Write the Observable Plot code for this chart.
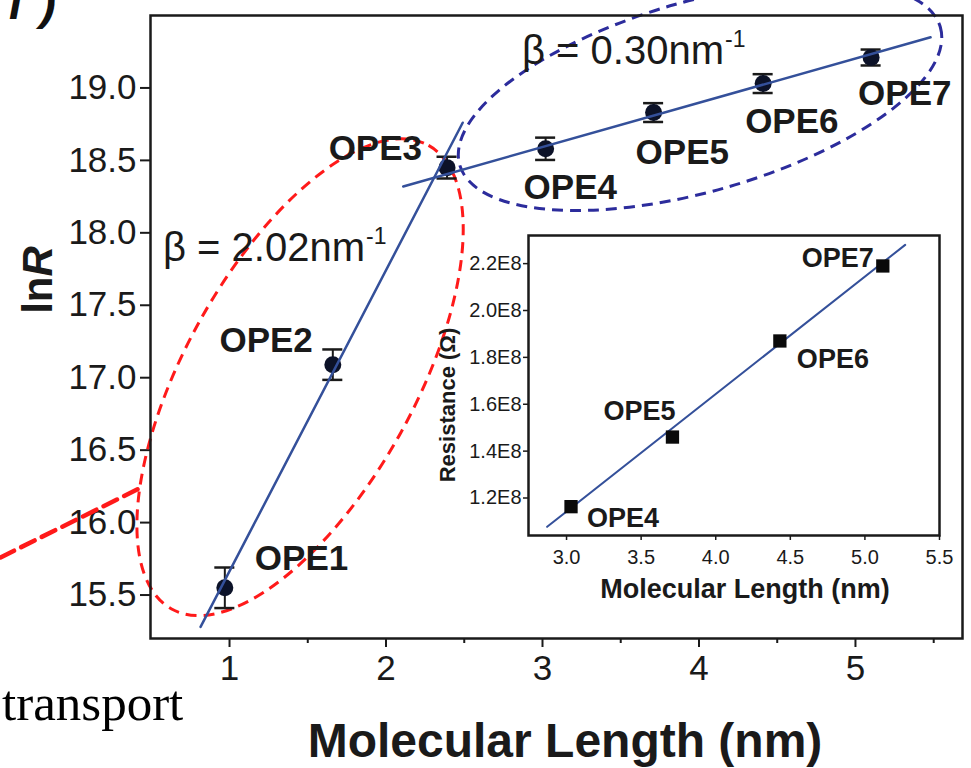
<!DOCTYPE html>
<html>
<head>
<meta charset="utf-8">
<script src="https://cdn.jsdelivr.net/npm/d3@7"></script>
<script src="https://cdn.jsdelivr.net/npm/@observablehq/plot@0.6"></script>
<style>
  html, body { margin: 0; padding: 0; background: #fff; }
  #wrap { position: relative; width: 971px; height: 768px; overflow: hidden; background: #fff;
          font-family: Arial, "Liberation Sans", sans-serif; }
  #wrap svg { position: absolute; overflow: visible; }
</style>
</head>
<body>
<div id="wrap"></div>
<script>
// ---------------- data ----------------
const opeNames   = ["OPE1", "OPE2", "OPE3", "OPE4", "OPE5", "OPE6", "OPE7"];
const opeLength  = [0.97, 1.66, 2.39, 3.02, 3.71, 4.41, 5.10];          // nm
const opeLnR     = [15.55, 17.09, 18.45, 18.58, 18.83, 19.03, 19.21];
const opeLnRErr  = [0.14, 0.105, 0.075, 0.077, 0.065, 0.065, 0.055];

const fitShortX  = [0.815, 2.49];   // β = 2.02 nm-1 fit (OPE1–OPE3)
const fitShortY  = [15.28, 18.76];
const fitLongX   = [2.11, 5.48];    // β = 0.30 nm-1 fit (OPE3–OPE7)
const fitLongY   = [18.32, 19.35];

const mainXTicks = [1, 2, 3, 4, 5];
const mainXMinor = [1.5, 2.5, 3.5, 4.5, 5.5];
const mainYTicks = [15.5, 16.0, 16.5, 17.0, 17.5, 18.0, 18.5, 19.0];

const insetNames  = ["OPE4", "OPE5", "OPE6", "OPE7"];
const insetLength = [3.03, 3.71, 4.43, 5.12];
const insetR      = [1.163e8, 1.46e8, 1.87e8, 2.19e8];   // Ω
const insetFitX   = [2.87, 5.27];
const insetFitY   = [1.077e8, 2.28e8];
const insetXTicks = [3.0, 3.5, 4.0, 4.5, 5.0, 5.5];
const insetYTicks = [1.2e8, 1.4e8, 1.6e8, 1.8e8, 2.0e8, 2.2e8];

const betaTexts  = ["β = 2.02nm", "β = 0.30nm"];
const xTitle     = "Molecular Length (nm)";
const insetYTitle = "Resistance (Ω)";

// ---------------- tables built from the arrays ----------------
const ope = opeNames.map((name, i) => ({
  name, x: opeLength[i], y: opeLnR[i], lo: opeLnR[i] - opeLnRErr[i], hi: opeLnR[i] + opeLnRErr[i]
}));
const fitShort = fitShortX.map((x, i) => ({x, y: fitShortY[i]}));
const fitLong  = fitLongX.map((x, i) => ({x, y: fitLongY[i]}));
const inset = insetNames.map((name, i) => ({name, x: insetLength[i], y: insetR[i]}));
const insetFit = insetFitX.map((x, i) => ({x, y: insetFitY[i]}));

// ---------------- styling ----------------
const FONT = 'Arial, "Liberation Sans", sans-serif';
const INK = "#1a1a1a";
const FIT = "#34509a";
const NS = "http://www.w3.org/2000/svg";

function el(tag, attrs) {
  const e = document.createElementNS(NS, tag);
  for (const k in attrs) e.setAttribute(k, attrs[k]);
  return e;
}

// dashed ellipse annotation, centre in data units, radii/rotation in px
function ellipseMark(cx, cy, rx, ry, rot, stroke, width, dash) {
  return (index, scales) => el("ellipse", {
    cx: 0, cy: 0, rx, ry, fill: "none", stroke, "stroke-width": width, "stroke-dasharray": dash,
    transform: `translate(${scales.x(cx)},${scales.y(cy)}) rotate(${rot})`
  });
}

// β label with superscript "-1", anchored at a data position
function betaMark(text, xv, yv) {
  return (index, scales) => {
    const t = el("text", {x: scales.x(xv), y: scales.y(yv), "font-size": 40, "font-family": FONT,
      fill: INK, "text-anchor": "start"});
    const a = el("tspan", {}); a.textContent = text; t.appendChild(a);
    const s = el("tspan", {dy: -17, dx: 1, "font-size": 23}); s.textContent = "-1"; t.appendChild(s);
    return t;
  };
}

function staticText(parts, attrs) {
  return () => {
    const t = el("text", Object.assign({"font-family": FONT, fill: INK, "text-anchor": "start"}, attrs));
    for (const p of parts) {
      const s = el("tspan", p.attrs || {}); s.textContent = p.text; t.appendChild(s);
    }
    return t;
  };
}

const labelPlace = {
  OPE1: {anchor: "start", dx: 30,  dy: -18},
  OPE2: {anchor: "end",   dx: -20, dy: -13},
  OPE3: {anchor: "end",   dx: -25, dy: -8},
  OPE4: {anchor: "start", dx: -22, dy: 50},
  OPE5: {anchor: "start", dx: -18, dy: 51},
  OPE6: {anchor: "start", dx: -18, dy: 49},
  OPE7: {anchor: "start", dx: -13, dy: 47}
};
const insetLabelPlace = {
  OPE4: {anchor: "start", dx: 16, dy: 20},
  OPE5: {anchor: "end",   dx: 3,  dy: -17},
  OPE6: {anchor: "start", dx: 17, dy: 27},
  OPE7: {anchor: "end",   dx: -9, dy: 1}
};

const CAP = 0.064; // half-width of error-bar caps in nm (≈10 px)

// ---------------- main chart ----------------
const mainPlot = Plot.plot({
  width: 971, height: 768,
  marginLeft: 150, marginRight: 9, marginTop: 15, marginBottom: 130,
  x: {domain: [0.495, 5.684]},
  y: {domain: [15.2, 19.5]},
  style: {background: "transparent", fontFamily: FONT, color: INK, overflow: "visible"},
  marks: [
    Plot.axisY(mainYTicks, {tickSize: 10, tickPadding: 4, fontSize: 35, strokeWidth: 2, stroke: INK,
      tickFormat: d => d.toFixed(1), label: null}),
    Plot.axisX(mainXTicks, {tickSize: 9, tickPadding: 8, fontSize: 35, strokeWidth: 2, stroke: INK,
      tickFormat: d => String(d), label: null}),
    Plot.axisX(mainXMinor, {tickSize: 5, strokeWidth: 2, stroke: INK, tickFormat: () => "", label: null}),
    // annotations
    ellipseMark(1.454, 17.0, 265, 115, -61, "#ff1a1a", 3, "11 7"),
    ellipseMark(4.01, 18.94, 250, 95, -16, "#2c2c9c", 3, "11 7"),
    Plot.line([{x: -0.463, y: 15.76}, {x: 0.412, y: 16.23}], {x: "x", y: "y", stroke: "#ff1a1a", strokeWidth: 4.5, strokeDasharray: "15 8"}),
    // error bars
    Plot.ruleX(ope, {x: "x", y1: "lo", y2: "hi", stroke: INK, strokeWidth: 2}),
    Plot.ruleY(ope, {y: "lo", x1: d => d.x - CAP, x2: d => d.x + CAP, stroke: INK, strokeWidth: 2.5}),
    Plot.ruleY(ope, {y: "hi", x1: d => d.x - CAP, x2: d => d.x + CAP, stroke: INK, strokeWidth: 2.5}),
    // points
    Plot.dot(ope, {x: "x", y: "y", r: 8.5, fill: "#0c1228", stroke: "none"}),
    // fit lines
    Plot.line(fitShort, {x: "x", y: "y", stroke: FIT, strokeWidth: 2.5}),
    Plot.line(fitLong,  {x: "x", y: "y", stroke: FIT, strokeWidth: 2.5}),
    // point labels
    ...ope.map(d => Plot.text([d], {x: "x", y: "y", text: "name",
      textAnchor: labelPlace[d.name].anchor, dx: labelPlace[d.name].dx, dy: labelPlace[d.name].dy,
      lineAnchor: "bottom", fontSize: 35, fontWeight: "bold", fill: INK})),
    // β labels
    betaMark(betaTexts[0], 0.578, 17.8),
    betaMark(betaTexts[1], 2.872, 19.16),
    Plot.frame({stroke: INK, strokeWidth: 2.5}),
    // titles
    staticText([{text: "ln"}, {text: "R", attrs: {"font-style": "italic"}}],
      {transform: "translate(52,280) rotate(-90)", "text-anchor": "middle", "font-size": 42, "font-weight": "bold"}),
    staticText([{text: xTitle}], {x: 565, y: 757, "text-anchor": "middle", "font-size": 48, "font-weight": "bold"}),
    staticText([{text: "transport"}], {x: 2, y: 720, "font-size": 51, "font-family": '"Liberation Serif", "Times New Roman", serif', fill: "#000"}),
    staticText([{text: "f"}, {text: ")", attrs: {dx: 16}}], {x: 8, y: 19, "font-size": 48, "font-weight": "bold", "font-style": "italic", fill: "#111"})
  ]
});
mainPlot.style.left = "0px";
mainPlot.style.top = "0px";
document.getElementById("wrap").appendChild(mainPlot);

// ---------------- inset ----------------
const insetPlot = Plot.plot({
  width: 560, height: 380,
  marginLeft: 128, marginRight: 21, marginTop: 10, marginBottom: 70,
  x: {domain: [2.745, 5.5]},
  y: {domain: [1.04e8, 2.32e8]},
  style: {background: "transparent", fontFamily: FONT, color: INK, overflow: "visible"},
  marks: [
    Plot.frame({fill: "white", stroke: "none"}),
    Plot.axisY(insetYTicks, {tickSize: 5, tickPadding: 2, fontSize: 20, strokeWidth: 1.5, stroke: INK,
      tickFormat: d => (d / 1e8).toFixed(1) + "E8", label: null}),
    Plot.axisX(insetXTicks, {tickSize: 5, tickPadding: 9, fontSize: 20, strokeWidth: 1.5, stroke: INK,
      tickFormat: d => d.toFixed(1), label: null}),
    Plot.line(insetFit, {x: "x", y: "y", stroke: FIT, strokeWidth: 2}),
    Plot.dot(inset, {x: "x", y: "y", symbol: "square", r: 7.5, fill: "#0a0a0a", stroke: "none"}),
    ...inset.map(d => Plot.text([d], {x: "x", y: "y", text: "name",
      textAnchor: insetLabelPlace[d.name].anchor, dx: insetLabelPlace[d.name].dx, dy: insetLabelPlace[d.name].dy,
      lineAnchor: "bottom", fontSize: 27, fontWeight: "bold", fill: INK})),
    Plot.frame({stroke: INK, strokeWidth: 2.5}),
    staticText([{text: insetYTitle}], {transform: "translate(55,180) rotate(-90)", "text-anchor": "middle", "font-size": 22, "font-weight": "bold"}),
    staticText([{text: xTitle}], {x: 345, y: 373, "text-anchor": "middle", "font-size": 27, "font-weight": "bold"})
  ]
});
insetPlot.style.left = "400px";
insetPlot.style.top = "225px";
document.getElementById("wrap").appendChild(insetPlot);
</script>
</body>
</html>
